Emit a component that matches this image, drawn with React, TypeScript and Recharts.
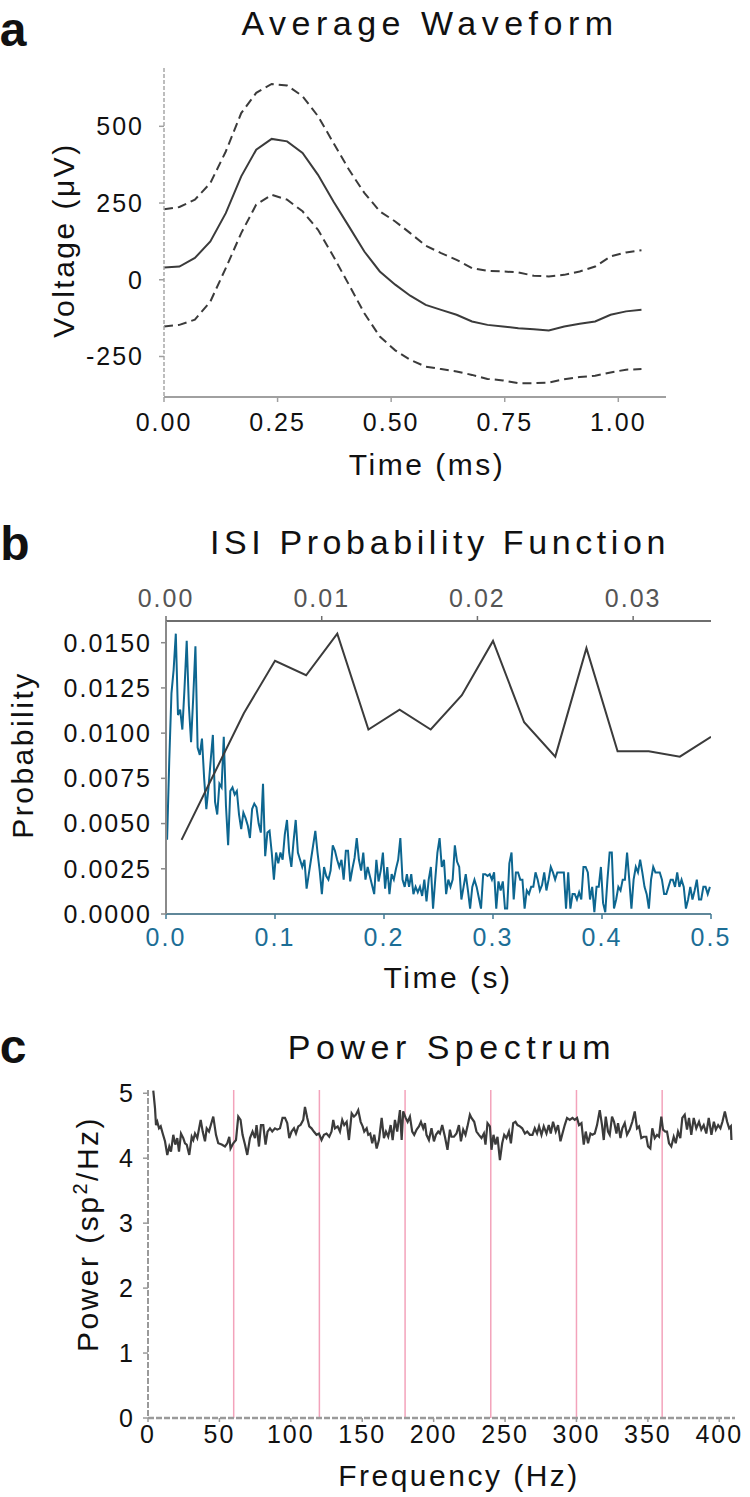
import React from 'react';
import { LineChart, Line, XAxis, YAxis, ReferenceLine } from 'recharts';

const FONT = '"Liberation Sans", Arial, Helvetica, sans-serif';

// ---- panel a: average waveform ----
const waveTime = [
  0, 0.034, 0.068, 0.102, 0.136, 0.17, 0.203, 0.237, 0.271, 0.305, 0.339, 0.373, 0.407, 0.441, 0.475, 0.509,
  0.542, 0.576, 0.61, 0.644, 0.678, 0.712, 0.746, 0.78, 0.814, 0.847, 0.881, 0.915, 0.949, 0.983, 1.017, 1.051,
];
const waveMean = [
  40, 43, 71, 125, 217, 337, 424, 459, 451, 413, 342, 255, 174, 92, 27, -16,
  -52, -82, -98, -114, -136, -147, -152, -158, -161, -165, -152, -143, -136, -114, -103, -98,
];
const waveUpper = [
  230, 237, 261, 315, 418, 543, 609, 638, 633, 598, 533, 446, 359, 283, 223, 190,
  152, 111, 87, 65, 38, 29, 27, 24, 13, 11, 16, 27, 43, 76, 89, 96,
];
const waveLower = [
  -152, -147, -130, -71, 38, 152, 245, 277, 261, 223, 163, 76, -16, -109, -185, -230,
  -261, -283, -291, -299, -310, -323, -328, -337, -337, -335, -324, -317, -313, -302, -293, -291,
];
const waveXTicks = [0, 0.25, 0.5, 0.75, 1.0];
const waveYTicks = [-250, 0, 250, 500];

// ---- panel b: ISI probability ----
// short window (top axis), bins every 2 ms starting at 1 ms
const isiShortTime = [0.001, 0.003, 0.005, 0.007, 0.009, 0.011, 0.013, 0.015, 0.017, 0.019, 0.021, 0.023, 0.025, 0.027, 0.029, 0.031, 0.033, 0.035];
const isiShortProb = [0.0041, 0.0076, 0.0111, 0.014, 0.0132, 0.0155, 0.0102, 0.0113, 0.0102, 0.0121, 0.0151, 0.0106, 0.0087, 0.0147, 0.009, 0.009, 0.0087, 0.0098];

// long window (bottom axis), 2 ms bins, one array per 100 ms
const ISI_BIN = 0.002;
const isiProb0 = [
  0.0041, 0.0085, 0.0122, 0.0135, 0.0155, 0.011, 0.0113, 0.0102, 0.0125, 0.0151,
  0.0115, 0.0095, 0.012, 0.0148, 0.0092, 0.0088, 0.0097, 0.0075, 0.0058, 0.007,
  0.0085, 0.0099, 0.0062, 0.0055, 0.0072, 0.007, 0.0098, 0.006, 0.0038, 0.0068,
  0.007, 0.0066, 0.0068, 0.0055, 0.0047, 0.0056, 0.0053, 0.0049, 0.0042, 0.0058,
  0.0061, 0.0059, 0.005, 0.0045, 0.0072, 0.0032, 0.0045, 0.0046, 0.0034, 0.0019,
];
const isiProb1 = [
  0.0034, 0.0028, 0.0034, 0.003, 0.0044, 0.0052, 0.0034, 0.0026, 0.004, 0.0052,
  0.0034, 0.003, 0.0026, 0.003, 0.0014, 0.0022, 0.003, 0.0038, 0.0046, 0.0034,
  0.0024, 0.0011, 0.0026, 0.0021, 0.0019, 0.0024, 0.0038, 0.0035, 0.003, 0.0026,
  0.003, 0.0019, 0.0035, 0.0035, 0.0018, 0.0025, 0.0031, 0.0042, 0.003, 0.0024,
  0.0034, 0.0019, 0.0026, 0.0021, 0.0016, 0.0011, 0.003, 0.0018, 0.0024, 0.0034,
];
const isiProb2 = [
  0.0014, 0.0026, 0.0011, 0.0022, 0.0019, 0.0025, 0.003, 0.0042, 0.0019, 0.0015,
  0.0022, 0.0015, 0.0022, 0.0011, 0.0015, 0.0012, 0.0015, 0.001, 0.0019, 0.0007,
  0.0019, 0.0026, 0.0003, 0.0019, 0.0034, 0.0042, 0.0026, 0.003, 0.0011, 0.0019,
  0.0015, 0.0019, 0.0038, 0.0029, 0.0026, 0.0008, 0.0015, 0.0022, 0.0013, 0.0003,
  0.0015, 0.0019, 0.0015, 0.0009, 0.0003, 0.0022, 0.0022, 0.0021, 0.0022, 0.0019,
];
const isiProb3 = [
  0.0023, 0.0003, 0.0018, 0.0013, 0.0018, 0.0003, 0.0003, 0.0028, 0.0034, 0.0008,
  0.0023, 0.0023, 0.0019, 0.0019, 0.0003, 0.0013, 0.0011, 0.0015, 0.0015, 0.0023,
  0.0019, 0.0013, 0.0016, 0.0023, 0.0013, 0.0019, 0.0026, 0.0023, 0.0019, 0.0023,
  0.0023, 0.0023, 0.0023, 0.0003, 0.0023, 0.0003, 0.0011, 0.0011, 0.0008, 0.0012,
  0.0008, 0.0026, 0.0026, 0.0023, 0.0008, 0.0015, 0.0001, 0.0015, 0.0015, 0.0026,
];
const isiProb4 = [
  0.0006, 0.0001, 0.0019, 0.0034, 0.0034, 0.0003, 0.0008, 0.0015, 0.0013, 0.0019,
  0.0019, 0.0034, 0.0019, 0.0003, 0.0019, 0.0026, 0.0023, 0.003, 0.0023, 0.0015,
  0.0011, 0.0003, 0.0019, 0.0026, 0.0023, 0.0023, 0.0023, 0.0019, 0.0011, 0.0011,
  0.0015, 0.0019, 0.0019, 0.0015, 0.0023, 0.0015, 0.0019, 0.0015, 0.0003, 0.0008,
  0.0015, 0.0008, 0.0013, 0.0019, 0.0008, 0.0008, 0.0015, 0.0015, 0.0011, 0.0015,
];
const isiYTicks = [0, 0.0025, 0.005, 0.0075, 0.01, 0.0125, 0.015];
const isiTopTicks = [0, 0.01, 0.02, 0.03];
const isiBottomTicks = [0, 0.1, 0.2, 0.3, 0.4, 0.5];

// ---- panel c: power spectrum, [Hz, sp^2/Hz] ----
const specLow = [
  [3.7, 5.04], [4.9, 4.77], [5.6, 4.51], [6.5, 4.56], [7.7, 4.46], [8.9, 4.49], [10.3, 4.38], [11.9, 4.26],
  [13.5, 4.05], [14.9, 4.18], [16.1, 4.1], [17.7, 4.36], [19.1, 4.21], [20.5, 4.31], [21.7, 4.1], [23.1, 4.38],
  [24.7, 4.31], [25.9, 4.23], [27.1, 4.21], [28.9, 4.05], [30.6, 4.33], [31.7, 4.28], [32.9, 4.38], [34.5, 4.31],
  [36.9, 4.59], [38.3, 4.41], [39.9, 4.26], [41.1, 4.46], [42.7, 4.41], [44.1, 4.52], [45.7, 4.64], [47.6, 4.36],
  [49.2, 4.23], [51.6, 4.21], [53.9, 4.18], [55.5, 4.23], [56.9, 4.33], [57.8, 4.15], [59.7, 4.23], [61.6, 4.28],
  [63.2, 4.64], [64.8, 4.59], [66.2, 4.36], [67.9, 4.21], [69.5, 4.05], [71.4, 4.31], [73.2, 4.41], [74.9, 4.31],
  [76.0, 4.51], [77.7, 4.18], [79.1, 4.51], [80.7, 4.51], [82.3, 4.21], [83.7, 4.41], [85.4, 4.46], [87.0, 4.41],
  [88.9, 4.46], [90.5, 4.44], [92.4, 4.46], [94.2, 4.62], [95.9, 4.62], [97.5, 4.54], [98.9, 4.31], [100.5, 4.41],
  [102.2, 4.46], [103.6, 4.38], [105.2, 4.49], [106.8, 4.51], [108.7, 4.59], [109.9, 4.79], [111.5, 4.62], [112.9, 4.49],
  [114.5, 4.46], [116.1, 4.41], [118.0, 4.36], [119.7, 4.38], [121.5, 4.28], [123.2, 4.36], [125.0, 4.38], [126.9, 4.33],
  [128.5, 4.41], [129.7, 4.59],
];
const specMid = [
  [130.9, 4.46], [132.8, 4.49], [134.4, 4.41], [136.0, 4.59], [137.4, 4.51], [139.1, 4.56], [140.7, 4.28], [142.6, 4.69],
  [144.2, 4.64], [145.6, 4.67], [147.2, 4.74], [148.9, 4.56], [150.3, 4.49], [151.4, 4.41], [153.1, 4.46], [154.2, 4.36],
  [155.6, 4.38], [157.0, 4.23], [158.4, 4.36], [160.1, 4.15], [161.7, 4.28], [163.6, 4.62], [165.2, 4.31], [166.6, 4.41],
  [168.2, 4.33], [169.9, 4.51], [171.3, 4.28], [172.9, 4.59], [174.5, 4.41], [176.4, 4.74], [177.6, 4.28], [178.7, 4.72],
  [180.4, 4.62], [181.8, 4.56], [183.4, 4.64], [185.0, 4.41], [186.4, 4.36], [188.1, 4.44], [189.7, 4.49], [191.1, 4.56],
  [192.7, 4.46], [193.9, 4.54], [195.0, 4.36], [196.7, 4.28], [198.5, 4.46], [200.2, 4.26], [201.6, 4.36], [203.2, 4.41],
  [204.4, 4.38], [206.0, 4.51], [207.9, 4.33], [209.7, 4.13], [211.4, 4.44], [212.5, 4.33], [214.2, 4.33], [216.0, 4.38],
  [217.7, 4.51], [219.1, 4.26], [220.7, 4.44], [222.3, 4.36], [223.7, 4.49], [225.4, 4.67], [226.5, 4.62], [228.4, 4.56],
  [230.0, 4.41], [231.7, 4.36], [233.5, 4.31], [235.2, 4.38], [236.3, 4.21], [237.7, 4.54], [239.4, 4.49], [240.5, 4.13],
  [241.9, 4.36], [243.3, 4.21], [244.7, 4.33], [246.4, 3.97], [248.0, 4.23], [249.4, 4.36], [251.0, 4.31], [252.7, 4.41],
  [254.1, 4.23], [255.7, 4.54], [257.3, 4.56], [258.7, 4.51], [260.4, 4.49], [262.0, 4.46], [263.9, 4.38], [265.5, 4.41],
  [267.4, 4.36],
];
const specHigh = [
  [269.2, 4.36], [270.8, 4.46], [272.4, 4.38], [273.8, 4.49], [275.5, 4.36], [277.1, 4.49], [279.0, 4.38], [280.6, 4.51],
  [282.0, 4.38], [283.6, 4.56], [285.5, 4.41], [287.1, 4.51], [288.8, 4.26], [290.2, 4.38], [291.8, 4.51], [293.4, 4.62],
  [295.3, 4.59], [297.2, 4.62], [298.8, 4.59], [300.4, 4.62], [301.8, 4.51], [303.5, 4.54], [305.1, 4.21], [306.5, 4.41],
  [308.1, 4.23], [309.8, 4.38], [311.2, 4.36], [312.8, 4.38], [314.4, 4.51], [316.3, 4.74], [317.9, 4.51], [319.1, 4.28],
  [320.5, 4.64], [322.1, 4.41], [323.3, 4.36], [324.9, 4.64], [326.3, 4.56], [328.0, 4.38], [329.1, 4.54], [330.8, 4.31],
  [332.1, 4.46], [333.8, 4.54], [335.4, 4.36], [337.3, 4.44], [339.1, 4.56], [340.8, 4.72], [342.4, 4.46], [343.8, 4.49],
  [345.4, 4.31], [347.1, 4.33], [348.9, 4.33], [350.1, 4.18], [351.7, 4.15], [353.1, 4.46], [354.8, 4.31], [356.4, 4.36],
  [357.8, 4.33], [359.4, 4.64], [360.6, 4.44], [362.2, 4.41], [363.4, 4.41], [364.8, 4.23], [366.4, 4.18], [368.1, 4.33],
  [369.5, 4.23], [371.1, 4.41], [372.7, 4.31], [374.1, 4.62], [375.8, 4.67], [377.4, 4.44], [378.8, 4.62], [380.4, 4.36],
  [382.1, 4.62], [383.9, 4.46], [385.8, 4.56], [387.4, 4.44], [389.1, 4.51], [390.9, 4.38], [392.6, 4.62], [394.5, 4.36],
  [396.2, 4.56], [397.6, 4.44], [399.2, 4.51], [400.8, 4.46], [402.2, 4.56], [403.9, 4.72], [405.5, 4.56], [406.9, 4.46],
  [408.1, 4.49], [408.5, 4.28],
];
const lineNoiseHz = [60, 120, 180, 240, 300, 360];
const specXTicks = [0, 50, 100, 150, 200, 250, 300, 350, 400];
const specYTicks = [0, 1, 2, 3, 4, 5];

// rows for recharts
const waveRows = waveTime.map((t, i) => ({ t, mean: waveMean[i], upper: waveUpper[i], lower: waveLower[i] }));
const isiShortRows = isiShortTime.map((t, i) => ({ t, p: isiShortProb[i] }));
const isiLongRows = [...isiProb0, ...isiProb1, ...isiProb2, ...isiProb3, ...isiProb4].map((p, k) => ({
  t: +(ISI_BIN / 2 + ISI_BIN * k).toFixed(4),
  p,
}));
const specRows = [...specLow, ...specMid, ...specHigh].map(([f, p]) => ({ f, p }));

const DARK = '#3b3b3b';
const BLUE = '#0d6690';
const PINK = '#f3a3bb';

const tickStyle = (fill = '#111') => ({ fill, fontSize: 25, fontFamily: FONT, letterSpacing: 2 });

const Txt = ({ x, y, size, children, rotate = false, bold = false, spacing = 2.5 }: any) => (
  <div
    style={{
      position: 'absolute',
      left: x,
      top: y,
      transform: `translate(-50%, -50%)${rotate ? ' rotate(-90deg)' : ''}`,
      fontFamily: FONT,
      fontSize: size,
      fontWeight: bold ? 700 : 400,
      letterSpacing: spacing,
      lineHeight: 1,
      whiteSpace: 'nowrap',
      color: '#111',
    }}
  >
    {children}
  </div>
);

export default function App() {
  return (
    <div style={{ position: 'absolute', left: 0, top: 0, width: 750, height: 1497, background: '#fff', overflow: 'hidden' }}>
      {/* panel a */}
      <div style={{ position: 'absolute', left: 0, top: 0 }}>
        <LineChart width={750} height={480} data={waveRows} margin={{ top: 68, right: 84, bottom: 43, left: 104 }}>
          <XAxis
            dataKey="t"
            type="number"
            domain={[0, 1.105]}
            ticks={waveXTicks}
            tickFormatter={(v: number) => v.toFixed(2)}
            height={40}
            axisLine={{ stroke: '#a0a0a0', strokeWidth: 2 }}
            tickLine={{ stroke: '#a0a0a0', strokeWidth: 1.5 }}
            tickSize={5}
            tickMargin={11}
            tick={tickStyle()}
            allowDataOverflow
          />
          <YAxis
            type="number"
            domain={[-382, 690]}
            ticks={waveYTicks}
            width={60}
            axisLine={{ stroke: '#a8a8a8', strokeWidth: 1.5, strokeDasharray: '4 2' }}
            tickLine={{ stroke: '#a0a0a0', strokeWidth: 1.5 }}
            tickSize={5}
            tickMargin={15}
            tick={tickStyle()}
            allowDataOverflow
          />
          <Line dataKey="upper" type="linear" stroke={DARK} strokeWidth={2} strokeDasharray="9 5" dot={false} isAnimationActive={false} />
          <Line dataKey="mean" type="linear" stroke={DARK} strokeWidth={2} dot={false} isAnimationActive={false} />
          <Line dataKey="lower" type="linear" stroke={DARK} strokeWidth={2} strokeDasharray="9 5" dot={false} isAnimationActive={false} />
        </LineChart>
      </div>

      {/* panel b */}
      <div style={{ position: 'absolute', left: 0, top: 490 }}>
        <LineChart width={750} height={510} margin={{ top: 91, right: 39, bottom: 46, left: 86 }}>
          <XAxis
            xAxisId="top"
            orientation="top"
            dataKey="t"
            type="number"
            domain={[0, 0.035]}
            ticks={isiTopTicks}
            tickFormatter={(v: number) => v.toFixed(2)}
            height={40}
            axisLine={{ stroke: '#6e6e6e', strokeWidth: 2 }}
            tickLine={{ stroke: '#6e6e6e', strokeWidth: 1.5 }}
            tickSize={5}
            tickMargin={9}
            tick={tickStyle('#555')}
            allowDataOverflow
          />
          <XAxis
            xAxisId="bottom"
            orientation="bottom"
            dataKey="t"
            type="number"
            domain={[0, 0.5]}
            ticks={isiBottomTicks}
            tickFormatter={(v: number) => v.toFixed(1)}
            height={40}
            axisLine={{ stroke: '#5f8799', strokeWidth: 2 }}
            tickLine={{ stroke: '#3f7a96', strokeWidth: 1.5 }}
            tickSize={5}
            tickMargin={9}
            tick={tickStyle('#1c6e96')}
            allowDataOverflow
          />
          <YAxis
            type="number"
            domain={[0, 0.0162]}
            ticks={isiYTicks}
            tickFormatter={(v: number) => v.toFixed(4)}
            width={80}
            axisLine={{ stroke: '#8a8a8a', strokeWidth: 2 }}
            tickLine={{ stroke: '#8a8a8a', strokeWidth: 1.5 }}
            tickSize={5}
            tickMargin={9}
            tick={tickStyle()}
            allowDataOverflow
          />
          <Line xAxisId="bottom" data={isiLongRows} dataKey="p" type="linear" stroke={BLUE} strokeWidth={2} dot={false} isAnimationActive={false} />
          <Line xAxisId="top" data={isiShortRows} dataKey="p" type="linear" stroke={DARK} strokeWidth={2} dot={false} isAnimationActive={false} />
        </LineChart>
      </div>

      {/* panel c */}
      <div style={{ position: 'absolute', left: 0, top: 1010 }}>
        <LineChart width={750} height={487} data={specRows} margin={{ top: 80, right: 15, bottom: 39, left: 88 }}>
          <XAxis
            dataKey="f"
            type="number"
            domain={[0, 411]}
            ticks={specXTicks}
            height={40}
            axisLine={{ stroke: '#9a9a9a', strokeWidth: 2.5, strokeDasharray: '6 2' }}
            tickLine={{ stroke: '#9a9a9a', strokeWidth: 1.5 }}
            tickSize={4}
            tickMargin={3}
            tick={tickStyle()}
            allowDataOverflow
          />
          <YAxis
            type="number"
            domain={[0, 5.05]}
            ticks={specYTicks}
            width={60}
            axisLine={{ stroke: '#9a9a9a', strokeWidth: 2, strokeDasharray: '6 2' }}
            tickLine={{ stroke: '#9a9a9a', strokeWidth: 1.5 }}
            tickSize={5}
            tickMargin={8}
            tick={tickStyle()}
            allowDataOverflow
          />
          {lineNoiseHz.map((hz) => (
            <ReferenceLine key={hz} x={hz} stroke={PINK} strokeWidth={1.5} />
          ))}
          <Line dataKey="p" type="linear" stroke={DARK} strokeWidth={2.2} dot={false} isAnimationActive={false} />
        </LineChart>
      </div>

      {/* panel letters and titles */}
      <Txt x={13} y={30} size={48} bold spacing={0}>a</Txt>
      <Txt x={15} y={544} size={48} bold spacing={0}>b</Txt>
      <Txt x={13} y={1047} size={48} bold spacing={0}>c</Txt>

      <Txt x={430} y={23} size={34} spacing={5.5}>Average Waveform</Txt>
      <Txt x={440} y={542} size={34} spacing={4.6}>ISI Probability Function</Txt>
      <Txt x={452} y={1047} size={34} spacing={5.5}>Power Spectrum</Txt>

      {/* axis titles */}
      <Txt x={64} y={240} size={30} rotate>Voltage (μV)</Txt>
      <Txt x={427} y={465} size={30}>Time (ms)</Txt>
      <Txt x={23} y={755} size={30} rotate>Probability</Txt>
      <Txt x={448} y={978} size={30}>Time (s)</Txt>
      <Txt x={88} y={1234} size={30} rotate>
        Power (sp<sup style={{ fontSize: 20, verticalAlign: 'super', lineHeight: 0 }}>2</sup>/Hz)
      </Txt>
      <Txt x={459} y={1476} size={30}>Frequency (Hz)</Txt>
    </div>
  );
}
